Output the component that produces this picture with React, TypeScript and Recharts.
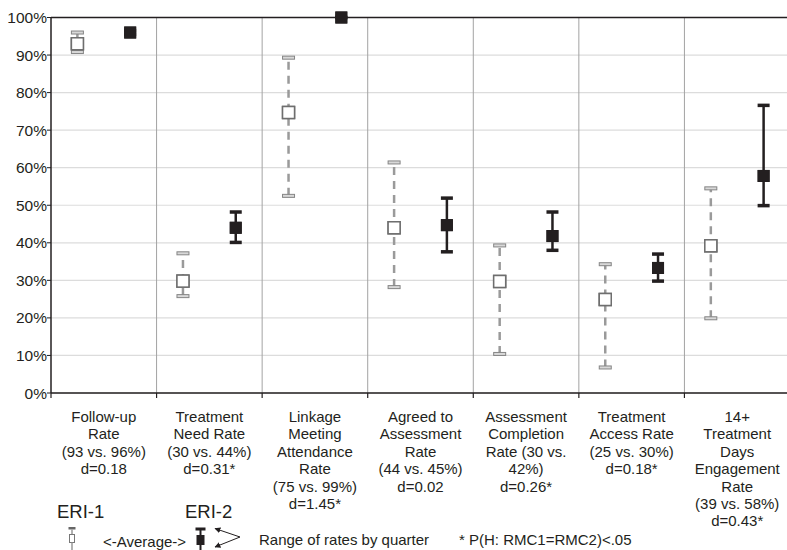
import React from 'react';
import { ScatterChart, Scatter, XAxis, YAxis, CartesianGrid, ReferenceLine, ErrorBar } from 'recharts';

// category labels, already broken into lines as in the figure
const labels = [
  ['Follow-up', 'Rate', '(93 vs. 96%)', 'd=0.18'],
  ['Treatment', 'Need Rate', '(30 vs. 44%)', 'd=0.31*'],
  ['Linkage', 'Meeting', 'Attendance', 'Rate', '(75 vs. 99%)', 'd=1.45*'],
  ['Agreed to', 'Assessment', 'Rate', '(44 vs. 45%)', 'd=0.02'],
  ['Assessment', 'Completion', 'Rate (30 vs.', '42%)', 'd=0.26*'],
  ['Treatment', 'Access Rate', '(25 vs. 30%)', 'd=0.18*'],
  ['14+', 'Treatment', 'Days', 'Engagement', 'Rate', '(39 vs. 58%)', 'd=0.43*'],
];

// ERI-1: average and range of quarterly rates (%)
const eri1Avg = [93, 29.8, 74.7, 44, 29.7, 24.9, 39.2];
const eri1Lo = [90.8, 25.8, 52.5, 28.2, 10.4, 6.8, 19.9];
const eri1Hi = [96, 37.2, 89.3, 61.4, 39.3, 34.3, 54.5];

// ERI-2
const eri2Avg = [96, 44, 100, 44.7, 41.8, 33.3, 57.8];
const eri2Lo = [95.5, 40.1, 100, 37.6, 38, 29.8, 49.9];
const eri2Hi = [96.5, 48.2, 100, 51.9, 48.2, 37, 76.6];

const yTicks = [0, 10, 20, 30, 40, 50, 60, 70, 80, 90, 100];
const boundaries = [1, 2, 3, 4, 5, 6];

const FONT = '"Liberation Sans", Arial, Helvetica, sans-serif';
const INK = '#231f20';

const xTicks = Array.from({ length: labels.length * 2 + 1 }, (_, i) => i / 2);

const pts = (avg: number[], lo: number[], hi: number[], off: number) =>
  avg.map((v, i) => ({ x: i + off, y: v, err: [v - lo[i], hi[i] - v] }));
const caps = (lo: number[], hi: number[], off: number) =>
  lo.flatMap((v, i) => [{ x: i + off, y: v }, { x: i + off, y: hi[i] }]);

const eri1 = pts(eri1Avg, eri1Lo, eri1Hi, 0.25);
const eri2 = pts(eri2Avg, eri2Lo, eri2Hi, 0.75);
const eri1Caps = caps(eri1Lo, eri1Hi, 0.25);
const eri2Caps = caps(eri2Lo, eri2Hi, 0.75);

const CatTick = (props: any) => {
  const { x, y, payload } = props;
  const v = payload.value;
  if (Number.isInteger(v)) {
    return <line x1={x} x2={x} y1={y} y2={y + 5} stroke={INK} strokeWidth={1.2} />;
  }
  const lines = labels[Math.floor(v)];
  return (
    <text x={x} y={y + 29} textAnchor="middle" fontSize={15} fill={INK} fontFamily={FONT}>
      {lines.map((l, i) => (
        <tspan key={i} x={x} dy={i === 0 ? 0 : 17.4}>{l}</tspan>
      ))}
    </text>
  );
};

const hollowSquare = (p: any) => (
  <rect x={p.cx - 6} y={p.cy - 6} width={12} height={12} fill="#fff" stroke="#6e6e6e" strokeWidth={1.5} />
);
const blackSquare = (p: any) => (
  <rect x={p.cx - 6} y={p.cy - 6} width={12} height={12} fill={INK} />
);
const hollowCap = (p: any) => (
  <rect x={p.cx - 6} y={p.cy - 1.5} width={12} height={3} fill="#d8d8d8" stroke="#858585" strokeWidth={1} />
);
const blackCap = (p: any) => (
  <rect x={p.cx - 6} y={p.cy - 1.75} width={12} height={3.5} fill={INK} />
);

export default function App() {
  return (
    <div style={{ position: 'absolute', left: 0, top: 0, width: 787, height: 550, overflow: 'hidden', background: '#fff' }}>
      <ScatterChart width={790} height={550} margin={{ top: 17.5, right: 0, bottom: 147, left: 0 }}>
        <CartesianGrid vertical={false} stroke="#dcdcdc" strokeWidth={1.2} />
        {boundaries.map((b) => (
          <ReferenceLine key={b} x={b} stroke="#a3a3a3" strokeWidth={1} />
        ))}
        <ReferenceLine y={100} stroke={INK} strokeWidth={1.5} />
        <XAxis
          type="number"
          dataKey="x"
          domain={[0, labels.length]}
          ticks={xTicks}
          interval={0}
          height={10}
          tickSize={0}
          tickMargin={0}
          tickLine={false}
          tick={<CatTick />}
          axisLine={{ stroke: INK, strokeWidth: 1.5 }}
        />
        <YAxis
          type="number"
          dataKey="y"
          domain={[0, 100]}
          ticks={yTicks}
          interval={0}
          width={51}
          tickSize={4}
          tickMargin={0}
          tickFormatter={(v: number) => `${v}%`}
          tick={{ fontSize: 15.5, fill: INK, fontFamily: FONT }}
          tickLine={{ stroke: INK }}
          axisLine={{ stroke: INK, strokeWidth: 1.5 }}
        />
        <Scatter data={eri1} shape={hollowSquare} isAnimationActive={false}>
          <ErrorBar dataKey="err" direction="y" width={0} stroke="#9a9a9a" strokeWidth={2.5} strokeDasharray="8 6" isAnimationActive={false} />
        </Scatter>
        <Scatter data={eri2} shape={blackSquare} isAnimationActive={false}>
          <ErrorBar dataKey="err" direction="y" width={0} stroke={INK} strokeWidth={2.5} isAnimationActive={false} />
        </Scatter>
        <Scatter data={eri1Caps} shape={hollowCap} isAnimationActive={false} />
        <Scatter data={eri2Caps} shape={blackCap} isAnimationActive={false} />
        <Scatter data={eri1} shape={hollowSquare} isAnimationActive={false} />
        <Scatter data={eri2} shape={blackSquare} isAnimationActive={false} />
      </ScatterChart>

      <svg width={787} height={550} style={{ position: 'absolute', left: 0, top: 0, pointerEvents: 'none' }} fontFamily={FONT} fill={INK}>
        <defs>
          <marker id="ah" viewBox="0 0 10 10" refX="9" refY="5" markerWidth="6" markerHeight="6" orient="auto">
            <path d="M0,0 L10,5 L0,10 z" fill={INK} />
          </marker>
        </defs>
        <text x={57} y={518} fontSize={18.5}>ERI-1</text>
        <text x={185} y={518} fontSize={18.5}>ERI-2</text>
        <rect x={68.5} y={527} width={7} height={2.5} fill="#666" />
        <line x1={72} x2={72} y1={529.5} y2={534.5} stroke="#999" strokeWidth={1.5} />
        <rect x={69.5} y={534.5} width={5} height={8} fill="#fff" stroke="#777" strokeWidth={1} />
        <line x1={72} x2={72} y1={542.5} y2={550} stroke="#999" strokeWidth={1.5} />
        <text x={103} y={546.5} fontSize={15}>{'<-Average->'}</text>
        <rect x={195.5} y={527.5} width={10} height={3} fill={INK} />
        <line x1={200.5} x2={200.5} y1={530} y2={550} stroke={INK} strokeWidth={2} />
        <rect x={196.5} y={535} width={8} height={10} fill={INK} />
        <line x1={240} y1={537} x2={215} y2={528.5} stroke={INK} strokeWidth={1} markerEnd="url(#ah)" />
        <line x1={240} y1={537} x2={215} y2={547} stroke={INK} strokeWidth={1} markerEnd="url(#ah)" />
        <text x={259} y={545} fontSize={15}>Range of rates by quarter</text>
        <text x={459} y={545} fontSize={15}>* P(H: RMC1=RMC2)&lt;.05</text>
      </svg>
    </div>
  );
}
